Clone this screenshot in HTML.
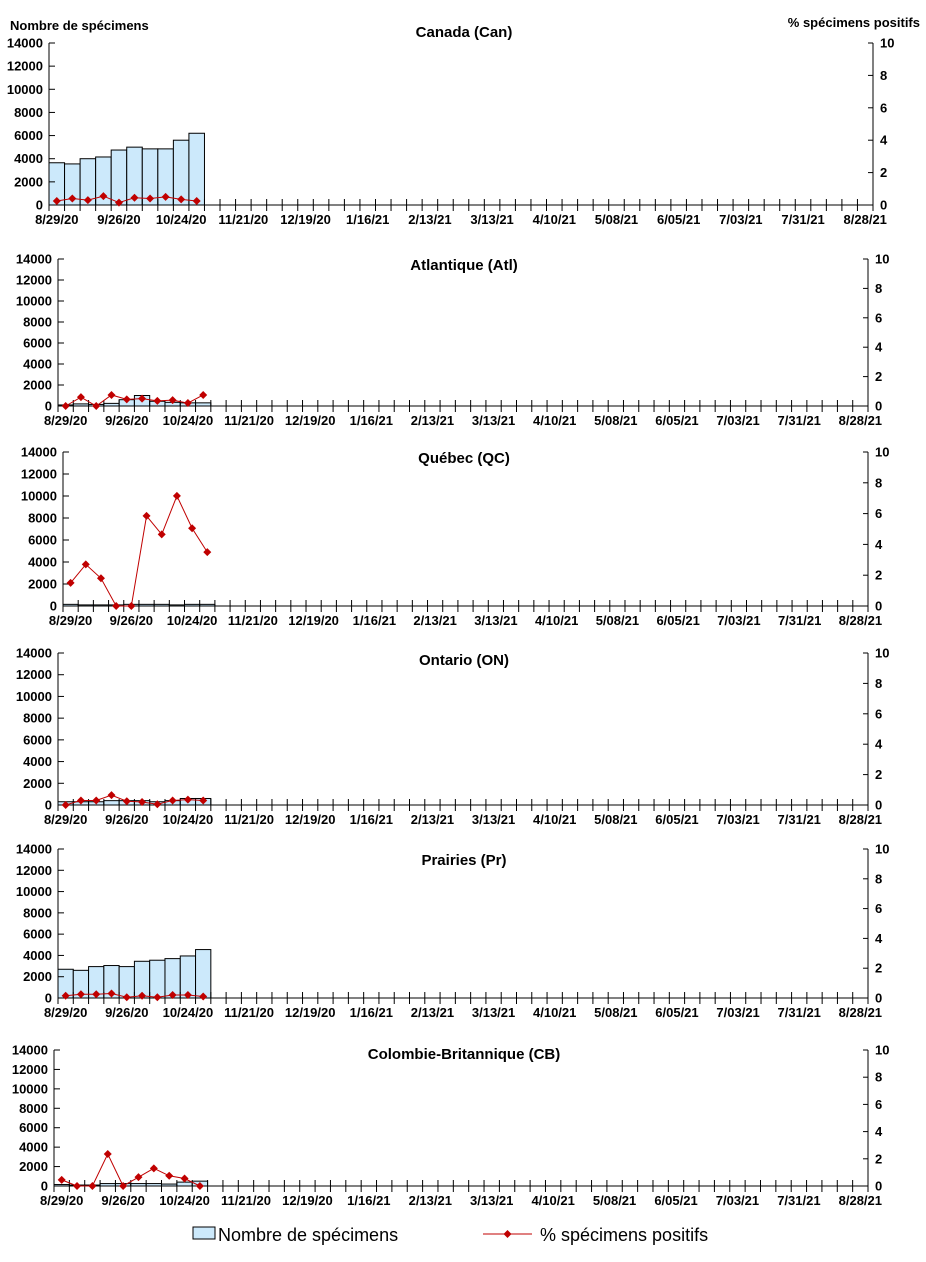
<!DOCTYPE html>
<html><head><meta charset="utf-8">
<style>
body{margin:0;background:#fff;width:926px;height:1257px;overflow:hidden;font-family:"Liberation Sans",Arial,sans-serif}
svg text{font-family:"Liberation Sans",Arial,sans-serif}
</style></head>
<body>
<svg id="chart" width="926" height="1257" viewBox="0 0 926 1257">
<text x="10" y="30" font-size="13" font-weight="bold">Nombre de spécimens</text>
<text x="920" y="27" font-size="13" font-weight="bold" text-anchor="end">% spécimens positifs</text>
<g>
<rect x="193" y="1227" width="22" height="12" fill="#cce9fb" stroke="#000"/>
<text x="218" y="1241" font-size="18">Nombre de spécimens</text>
<line x1="483" y1="1234" x2="532" y2="1234" stroke="#c00000" stroke-width="1"/>
<path d="M507.5 1230 L511.5 1234 L507.5 1238 L503.5 1234Z" fill="#c00000"/>
<text x="540" y="1241" font-size="18">% spécimens positifs</text>
</g>
</svg>
<script>
const dateLabels=["8/29/20","9/26/20","10/24/20","11/21/20","12/19/20","1/16/21","2/13/21","3/13/21","4/10/21","5/08/21","6/05/21","7/03/21","7/31/21","8/28/21"];
const leftTicks=[0,2000,4000,6000,8000,10000,12000,14000];
const rightTicks=[0,2,4,6,8,10];
const regionNames=["Canada (Can)","Atlantique (Atl)","Québec (QC)","Ontario (ON)","Prairies (Pr)","Colombie-Britannique (CB)"];
const canBars=[3650,3550,4000,4150,4750,5000,4850,4850,5600,6200];
const canPct=[0.25,0.4,0.3,0.55,0.15,0.45,0.4,0.5,0.35,0.25];
const atlBars=[100,200,150,250,600,1000,450,350,300,300];
const atlPct=[0,0.6,0,0.75,0.45,0.5,0.35,0.4,0.2,0.75];
const qcBars=[150,100,100,100,150,150,150,100,150,150];
const qcPct=[1.5,2.7,1.8,0,0,5.85,4.65,7.15,5.05,3.5];
const onBars=[300,300,300,400,400,400,300,400,600,600];
const onPct=[0,0.3,0.3,0.65,0.25,0.2,0.05,0.3,0.35,0.3];
const prBars=[2700,2600,2950,3050,2950,3450,3550,3700,3950,4550];
const prPct=[0.15,0.25,0.25,0.3,0.05,0.15,0.05,0.2,0.2,0.1];
const cbBars=[150,100,100,250,250,250,250,200,400,500];
const cbPct=[0.45,0,0,2.35,0,0.65,1.3,0.75,0.55,0];
const allBars=[canBars,atlBars,qcBars,onBars,prBars,cbBars];
const allPct=[canPct,atlPct,qcPct,onPct,prPct,cbPct];
const NCAT=53;
const panels=[
 {l:49,r:873,t:43,b:205,ty:37},
 {l:58,r:868,t:259,b:406,ty:270},
 {l:63,r:868,t:452,b:606,ty:463},
 {l:58,r:868,t:653,b:805,ty:665},
 {l:58,r:868,t:849,b:998,ty:865},
 {l:54,r:868,t:1050,b:1186,ty:1059}
];
const NS="http://www.w3.org/2000/svg";
const svg=document.getElementById('chart');
function mk(tag,attrs,parent,txt){const e=document.createElementNS(NS,tag);for(const k in attrs)e.setAttribute(k,attrs[k]);if(txt!==undefined)e.textContent=txt;parent.appendChild(e);return e;}
panels.forEach((p,i)=>{
 const g=mk('g',{},svg);
 
 
 const cw=(p.r-p.l)/NCAT;
 const xs=k=>p.l+k*cw;
 const yl=v=>p.b-(v/14000)*(p.b-p.t);
 const yr=v=>p.b-(v/10)*(p.b-p.t);
 const t=mk('text',{x:464,y:p.ty,'font-size':15,'font-weight':'bold','text-anchor':'middle'},g,regionNames[i]);
 
 
 allBars[i].forEach((v,k)=>{
  const b=mk('rect',{x:xs(k),y:yl(v),width:cw,height:p.b-yl(v),fill:'#cce9fb',stroke:'#000','stroke-width':1},g);
  
  
 });
 mk('line',{x1:p.l,y1:p.t,x2:p.l,y2:p.b,stroke:'#000'},g);
 mk('line',{x1:p.r,y1:p.t,x2:p.r,y2:p.b,stroke:'#000'},g);
 mk('line',{x1:p.l,y1:p.b,x2:p.r,y2:p.b,stroke:'#000'},g);
 leftTicks.forEach(v=>{
  mk('line',{x1:p.l,y1:yl(v),x2:p.l+6,y2:yl(v),stroke:'#000'},g);
  const tt=mk('text',{x:p.l-6,y:yl(v)+4.5,'font-size':13,'font-weight':'bold','text-anchor':'end'},g,String(v));
  
  
 });
 rightTicks.forEach(v=>{
  mk('line',{x1:p.r-5,y1:yr(v),x2:p.r,y2:yr(v),stroke:'#000'},g);
  const tt=mk('text',{x:p.r+7,y:yr(v)+4.5,'font-size':13,'font-weight':'bold'},g,String(v));
  
  
 });
 for(let k=0;k<=NCAT;k++) mk('line',{x1:xs(k),y1:p.b-6,x2:xs(k),y2:p.b+6,stroke:'#000'},g);
 dateLabels.forEach((d,j)=>{
  const tt=mk('text',{x:xs(j*4)+cw/2,y:p.b+19,'font-size':13,'font-weight':'bold','text-anchor':'middle'},g,d);
  
  
 });
 const pts=allPct[i].map((v,k)=>[xs(k)+cw/2,yr(v)]);
 const ln=mk('polyline',{points:pts.map(q=>q.join(',')).join(' '),fill:'none',stroke:'#c00000','stroke-width':1},g);
 
 
 pts.forEach(q=>{
  const m=mk('path',{d:`M${q[0]} ${q[1]-4}L${q[0]+4} ${q[1]}L${q[0]} ${q[1]+4}L${q[0]-4} ${q[1]}Z`,fill:'#c00000'},g);
  
  
 });
});
</script>
</body></html>
